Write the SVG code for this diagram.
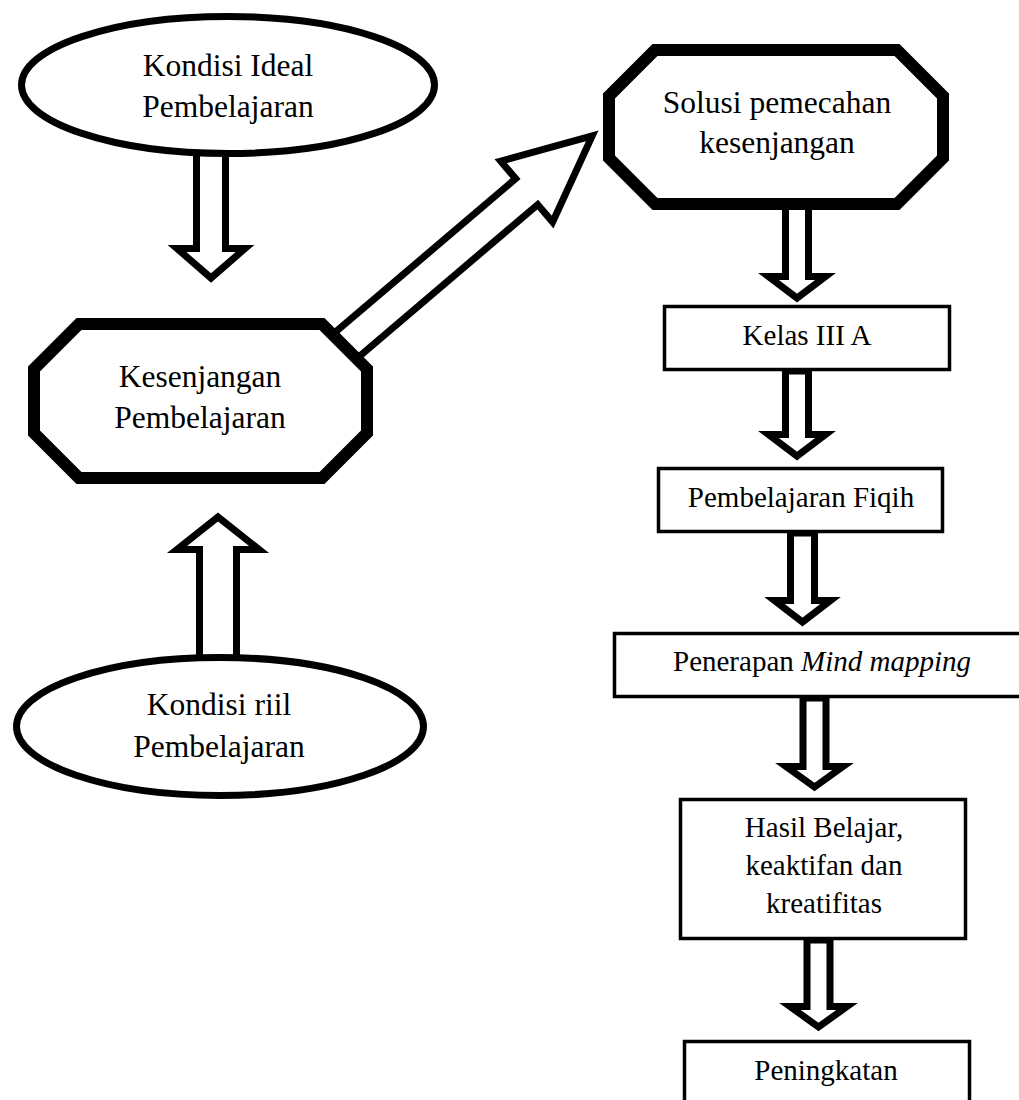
<svg xmlns="http://www.w3.org/2000/svg" width="1019" height="1100" viewBox="0 0 1019 1100">
<style>
.bg{fill:#fff}
.ell{fill:#fff;stroke:#000;stroke-width:7}
.oct{fill:#fff;stroke:#000;stroke-width:12;stroke-linejoin:miter}
.box{fill:#fff;stroke:#000;stroke-width:3.5}
.arr{fill:#fff;stroke:#000;stroke-width:7;stroke-linejoin:miter;stroke-miterlimit:10}
text{font-family:"Liberation Serif","Times New Roman",serif;fill:#000;text-anchor:middle}
.big{font-size:31.5px}
.sm{font-size:29px}
</style>
<rect class="bg" x="0" y="0" width="1019" height="1100"/>
<g id="connectors">
  <polygon class="arr" points="196.5,150 196.5,248.5 177,248.5 211,278 245,248.5 225.5,248.5 225.5,150"/>
  <polygon class="arr" points="199.5,665 199.5,549.5 177,549.5 218,517 259,549.5 236.5,549.5 236.5,665"/>
  <polygon class="arr" transform="translate(350,342) rotate(-40.4)" points="-6,-17 232,-17 232,-40 318,0 232,40 232,17 -6,17"/>
  <polygon class="arr" points="785.5,200 785.5,276.5 768.5,276.5 797,298 825.5,276.5 808.5,276.5 808.5,200"/>
  <polygon class="arr" points="785.5,371 785.5,434.5 768.5,434.5 797,456 825.5,434.5 808.5,434.5 808.5,371"/>
  <polygon class="arr" points="790.5,533 790.5,600.5 774.5,600.5 802.5,622 830.5,600.5 814.5,600.5 814.5,533"/>
  <polygon class="arr" points="803,698 803,766.5 786,766.5 814.5,787 843,766.5 826,766.5 826,698"/>
  <polygon class="arr" points="807,940 807,1006.5 790,1006.5 818.5,1027 847,1006.5 830,1006.5 830,940"/>
</g>
<g id="node-kondisi-ideal">
  <ellipse class="ell" cx="228" cy="85" rx="206.5" ry="68.5"/>
  <text class="big" x="228" y="76">Kondisi Ideal</text>
  <text class="big" x="228" y="117">Pembelajaran</text>
</g>
<g id="node-kesenjangan">
  <polygon class="oct" points="79,324 322,324 367,369 367,433 322,478 79,478 34,433 34,369"/>
  <text class="big" x="200" y="387">Kesenjangan</text>
  <text class="big" x="200" y="428">Pembelajaran</text>
</g>
<g id="node-kondisi-riil">
  <ellipse class="ell" cx="220" cy="726.5" rx="203.5" ry="69"/>
  <text class="big" x="219" y="715">Kondisi riil</text>
  <text class="big" x="219" y="757">Pembelajaran</text>
</g>
<g id="node-solusi">
  <polygon class="oct" points="655,50 897,50 943,96 943,158 897,204 655,204 609,158 609,96"/>
  <text class="big" x="777" y="113">Solusi pemecahan</text>
  <text class="big" x="777" y="153">kesenjangan</text>
</g>
<g id="node-kelas">
  <rect class="box" x="664.5" y="306.5" width="285" height="63"/>
  <text class="sm" x="807" y="345">Kelas III A</text>
</g>
<g id="node-fiqih">
  <rect class="box" x="658.5" y="468.5" width="284" height="63"/>
  <text class="sm" x="801" y="507">Pembelajaran Fiqih</text>
</g>
<g id="node-mindmapping">
  <rect class="box" x="614.5" y="633.5" width="420" height="63"/>
  <text class="sm" x="822" y="671">Penerapan <tspan font-style="italic">Mind mapping</tspan></text>
</g>
<g id="node-hasil">
  <rect class="box" x="680.5" y="799.5" width="285" height="139"/>
  <text class="sm" x="824" y="837">Hasil Belajar,</text>
  <text class="sm" x="824" y="875">keaktifan dan</text>
  <text class="sm" x="824" y="913">kreatifitas</text>
</g>
<g id="node-peningkatan">
  <rect class="box" x="684.5" y="1041.5" width="285" height="100"/>
  <text class="sm" x="826" y="1080">Peningkatan</text>
</g>
</svg>
